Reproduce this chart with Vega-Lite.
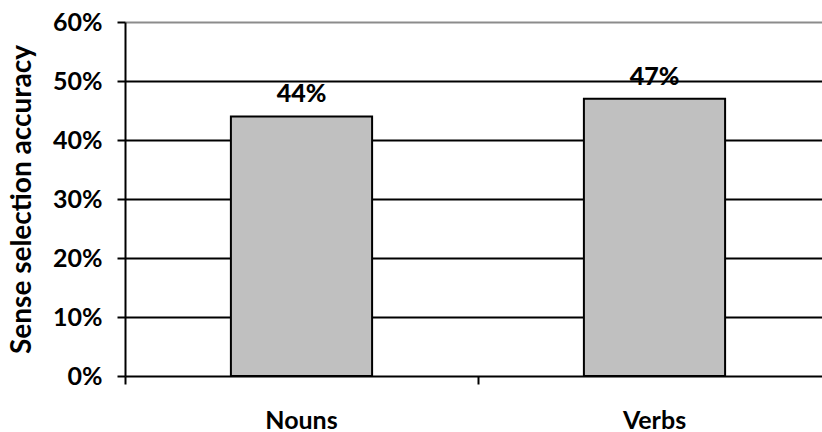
{
  "$schema": "https://vega.github.io/schema/vega-lite/v6.json",
  "width": 706,
  "height": 354,
  "autosize": "none",
  "padding": {"left": 125, "top": 22, "right": 0, "bottom": 56},
  "background": "white",
  "config": {
    "view": {"stroke": null},
    "font": "Lato",
    "axis": {"labelFont": "Lato", "titleFont": "Lato", "labelFontWeight": "bold", "titleFontWeight": "bold", "labelColor": "black", "titleColor": "black"}
  },
  "data": {
    "values": [
      {"category": "Nouns", "accuracy": 0.44},
      {"category": "Verbs", "accuracy": 0.47}
    ]
  },
  "encoding": {
    "x": {
      "field": "category",
      "type": "nominal",
      "sort": null,
      "scale": {"paddingInner": 0.6, "paddingOuter": 0.3},
      "axis": {
        "title": null,
        "labelAngle": 0,
        "labelFontSize": 25,
        "labelPadding": 24,
        "labelBaseline": "top",
        "bandPosition": -0.75,
        "tickSize": 8,
        "tickWidth": 2,
        "tickColor": "black",
        "domain": false,
        "grid": false
      }
    },
    "y": {
      "field": "accuracy",
      "type": "quantitative",
      "scale": {"domain": [0, 0.6], "nice": false},
      "axis": {
        "title": "Sense selection accuracy",
        "titleFontSize": 28,
        "titlePadding": 16,
        "format": ".0%",
        "values": [0, 0.1, 0.2, 0.3, 0.4, 0.5, 0.6],
        "labelFontSize": 25,
        "labelPadding": 15,
        "tickSize": 8,
        "tickWidth": 2,
        "tickColor": "black",
        "domainColor": "black",
        "domainWidth": 2,
        "grid": true,
        "gridWidth": 2,
        "gridColor": {"condition": {"test": "datum.value >= 0.6", "value": "#8c8c8c"}, "value": "black"},
        "gridOpacity": 1
      }
    }
  },
  "layer": [
    {
      "mark": {"type": "bar", "fill": "#c0c0c0", "stroke": "black", "strokeWidth": 2}
    },
    {
      "mark": {"type": "text", "baseline": "bottom", "dy": -9, "fontSize": 25, "fontWeight": 900, "font": "Lato", "fill": "black"},
      "encoding": {"text": {"field": "accuracy", "type": "quantitative", "format": ".0%"}}
    }
  ]
}
